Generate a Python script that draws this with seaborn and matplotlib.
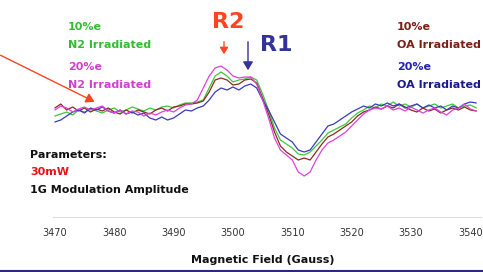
import numpy as np
import pandas as pd
import matplotlib
matplotlib.use("Agg")
import matplotlib.pyplot as plt
import seaborn as sns

# Magnetic field (Gauss), 1 G steps
field = list(range(3470, 3542))

# Signal (arbitrary units)
pink_px = [110,106,108,112,109,107,110,108,106,111,113,110,114,111,112,116,113,115,112,110,
           112,108,105,104,100,88,76,68,66,70,76,78,77,77,84,100,118,138,150,155,
           160,172,176,172,160,150,143,140,136,132,126,120,114,110,108,109,106,110,108,111,
           107,110,113,110,108,112,115,110,108,104,109,111]
green_px = [116,114,112,115,110,112,109,111,113,110,108,112,110,107,109,111,108,110,107,106,
            108,105,103,103,102,100,88,76,72,76,82,80,79,77,80,94,110,128,140,144,
            148,154,155,152,146,140,133,130,127,124,118,113,110,106,108,104,106,102,106,104,
            107,104,108,106,104,108,106,104,108,106,105,108]
brown_px = [108,104,110,107,111,108,112,109,111,108,112,114,110,113,110,112,114,110,108,111,
            107,106,104,104,103,101,92,80,78,80,85,84,80,79,83,98,114,132,146,152,
            156,160,158,160,152,144,137,134,130,126,122,116,112,110,107,109,106,108,104,107,
            110,112,108,111,109,113,110,108,110,107,110,111]
blue_px = [122,120,116,112,110,113,108,110,107,111,113,110,114,112,115,113,118,120,117,120,
           118,114,110,111,108,106,100,92,88,90,87,90,86,84,88,100,110,122,134,138,
           142,150,152,150,142,134,126,124,120,116,112,109,106,108,104,106,103,106,104,108,
           106,104,108,105,108,106,110,106,108,104,102,103]

series_names = ["10%e N2", "10%e OA", "20%e OA", "20%e N2"]
series_vals = [green_px, brown_px, blue_px, pink_px]
colors = {"10%e N2": "#3cc83c", "10%e OA": "#8a2c1c", "20%e OA": "#3a3ac0", "20%e N2": "#e040e0"}

rows = []
for name, vals in zip(series_names, series_vals):
    for f, v in zip(field, vals):
        rows.append({"field": f, "signal": 108 - v, "series": name})
df = pd.DataFrame(rows)

W, H = 483, 272
fig = plt.figure(figsize=(W / 100, H / 100), dpi=100)
sns.set_style("white")
plt.rcParams['font.family'] = ['DejaVu Sans']

ax = fig.add_axes([55 / W - 0.004, 1 - 217 / H, (482 - 54) / W, 217 / H])
sns.lineplot(data=df, x="field", y="signal", hue="series", palette=colors,
             hue_order=series_names, linewidth=0.9, legend=False, ax=ax)
ax.set_xlim(3469.7, 3541.8)
ax.set_ylim(-109, 108)
ax.set_yticks([])
ax.set_ylabel("")
ax.set_xlabel("")
ax.set_xticks(list(range(3470, 3541, 10)))
ax.tick_params(axis="x", length=4, width=0.8, color="#999999", labelsize=7, labelcolor="#333333", pad=4)
for s in ["top", "right", "left"]:
    ax.spines[s].set_visible(False)
ax.spines["bottom"].set_color("#dddddd")
ax.spines["bottom"].set_linewidth(0.8)
ax.patch.set_alpha(0)


def P(x, y):
    return (x / W, 1 - y / H)


bold = dict(fontweight="bold", fontsize=8, va="center", ha="left")
fig.text(*P(68, 27), "10%e", color="#33bb33", **bold)
fig.text(*P(68, 45), "N2 Irradiated", color="#33bb33", **bold)
fig.text(*P(68, 67), "20%e", color="#d040d0", **bold)
fig.text(*P(68, 85), "N2 Irradiated", color="#d040d0", **bold)
fig.text(*P(397, 27), "10%e", color="#7a1f14", **bold)
fig.text(*P(397, 45), "OA Irradiated", color="#7a1f14", **bold)
fig.text(*P(397, 67), "20%e", color="#2222aa", **bold)
fig.text(*P(397, 85), "OA Irradiated", color="#1a1a88", **bold)

fig.text(*P(30, 155), "Parameters:", color="#111111", **bold)
fig.text(*P(30, 172), "30mW", color="#ee1111", **bold)
fig.text(*P(30, 190), "1G Modulation Amplitude", color="#111111", **bold)

fig.text(*P(228, 22), "R2", color="#ff4422", fontsize=16, fontweight="bold", ha="center", va="center")
fig.text(*P(276, 45), "R1", color="#333399", fontsize=16, fontweight="bold", ha="center", va="center")

fig.text(*P(263, 260), "Magnetic Field (Gauss)", color="#111111", fontsize=8, fontweight="bold",
         ha="center", va="center")

fig.add_artist(matplotlib.patches.FancyArrowPatch(P(224, 39), P(224, 57), transform=fig.transFigure,
               arrowstyle="-|>,head_length=4,head_width=2.5", color="#ff4422", lw=1))
fig.add_artist(matplotlib.patches.FancyArrowPatch(P(248, 39), P(248, 73), transform=fig.transFigure,
               arrowstyle="-|>,head_length=5,head_width=3", color="#333399", lw=1))
fig.add_artist(matplotlib.patches.FancyArrowPatch(P(-2, 54), P(97, 103), transform=fig.transFigure,
               arrowstyle="-|>,head_length=5,head_width=3", color="#ff4422", lw=1))

fig.add_artist(matplotlib.lines.Line2D([0, 1], [1.5 / H, 1.5 / H], transform=fig.transFigure,
               color="#2a2a7a", lw=1.5))

fig.savefig("out.png", dpi=100)
